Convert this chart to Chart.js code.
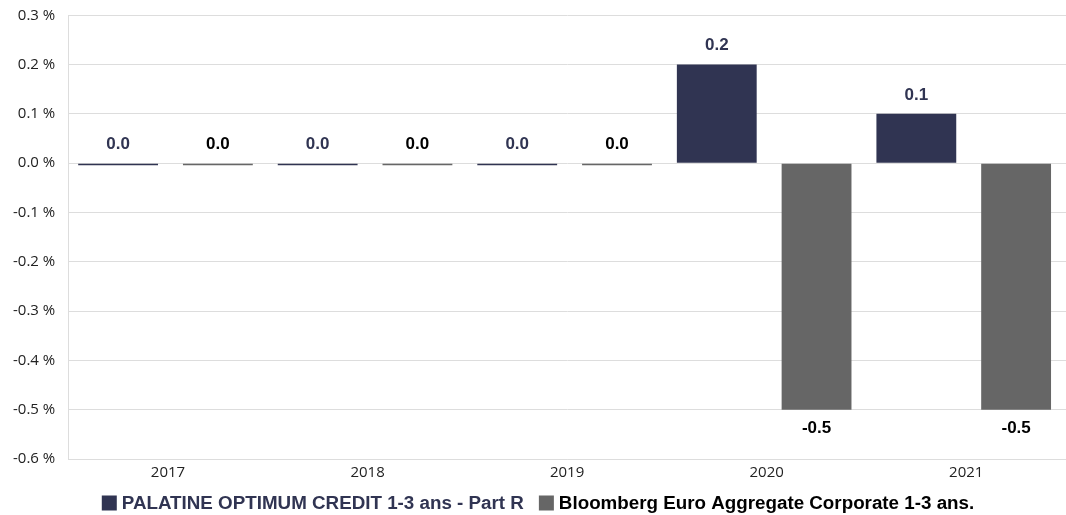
<!DOCTYPE html>
<html>
<head>
<meta charset="utf-8">
<script src="https://cdn.jsdelivr.net/npm/chart.js@4"></script>
<style>
  html, body { margin: 0; padding: 0; background: #fff; }
  #wrap { width: 1066px; height: 515px; }
</style>
</head>
<body>
<div id="wrap"><canvas id="myChart" width="1066" height="515"></canvas></div>
<script>
const years = ["2017", "2018", "2019", "2020", "2021"];
const fundName = "PALATINE OPTIMUM CREDIT 1-3 ans - Part R";
const indexName = "Bloomberg Euro Aggregate Corporate 1-3 ans.";
const fundValues = [-0.004, -0.004, -0.004, 0.2, 0.1];
const indexValues = [-0.004, -0.004, -0.004, -0.5, -0.5];
const yMin = -0.6;
const yMax = 0.3;

const navy = "#303452";
const grey = "#666666";
const legendFont = "bold 18.8px 'Liberation Sans', Arial, sans-serif";

// value labels drawn above / below each bar
const barLabels = {
  id: "barLabels",
  afterDatasetsDraw(chart) {
    const ctx = chart.ctx;
    ctx.save();
    ctx.font = "bold 17px 'Liberation Sans', Arial, sans-serif";
    ctx.textAlign = "center";
    ctx.textBaseline = "middle";
    chart.data.datasets.forEach((ds, i) => {
      const meta = chart.getDatasetMeta(i);
      ctx.fillStyle = ds.labelColor;
      meta.data.forEach((bar, j) => {
        const v = ds.data[j];
        const shown = Math.abs(v) < 0.05 ? "0.0" : v.toFixed(1);
        let y;
        if (v < -0.05) {
          y = Math.max(bar.y, bar.base) + 19;
        } else {
          y = Math.min(bar.y, bar.base) - 19;
        }
        ctx.fillText(shown, bar.x, y);
      });
    });
    ctx.restore();
  }
};

// legend at the bottom, each entry in its series colour
const bottomLegend = {
  id: "bottomLegend",
  afterDraw(chart) {
    const ctx = chart.ctx;
    const box = 15, gapBox = 5, gapItem = 15;
    const y = 503;
    ctx.save();
    ctx.font = legendFont;
    ctx.textBaseline = "middle";
    const items = chart.data.datasets.map((ds) => ({
      ds, w: box + gapBox + ctx.measureText(ds.label).width
    }));
    const total = items.reduce((s, it) => s + it.w, 0) + gapItem * (items.length - 1);
    let x = (chart.width - total) / 2 + 5;
    items.forEach((it) => {
      ctx.fillStyle = it.ds.backgroundColor;
      ctx.fillRect(x, y - box / 2, box, box);
      ctx.fillStyle = it.ds.labelColor;
      ctx.fillText(it.ds.label, x + box + gapBox, y + 1);
      x += it.w + gapItem;
    });
    ctx.restore();
  }
};

Chart.defaults.font.family = "'Open Sans', sans-serif";
Chart.defaults.color = "#222";

const data = {
  labels: years,
  datasets: [
    {
      label: fundName,
      data: fundValues,
      backgroundColor: navy,
      labelColor: navy,
      barPercentage: 0.8,
      categoryPercentage: 1.0,
    },
    {
      label: indexName,
      data: indexValues,
      backgroundColor: grey,
      labelColor: "#000",
      barPercentage: 0.7,
      categoryPercentage: 1.0,
    },
  ],
};

const config = {
  type: "bar",
  data: data,
  plugins: [barLabels, bottomLegend],
  options: {
    responsive: false,
    animation: false,
    layout: { padding: { top: -3, right: 0, left: 0, bottom: 28 } },
    plugins: {
      tooltip: { enabled: false },
      legend: { display: false },
    },
    scales: {
      x: {
        grid: { display: false, drawTicks: false },
        border: { display: true, color: "#ddd" },
        ticks: { font: { size: 15 }, color: "#222", padding: 5 },
      },
      y: {
        min: yMin,
        max: yMax,
        grid: { color: "#ddd", drawTicks: false },
        border: { display: true, color: "#ddd" },
        ticks: {
          stepSize: 0.1,
          padding: 13,
          font: { size: 15, lineHeight: 0.3 },
          color: "#222",
          callback: (v) => v.toFixed(1) + " %",
        },
      },
    },
  },
};

const chart = new Chart(document.getElementById("myChart").getContext("2d"), config);
</script>
</body>
</html>
